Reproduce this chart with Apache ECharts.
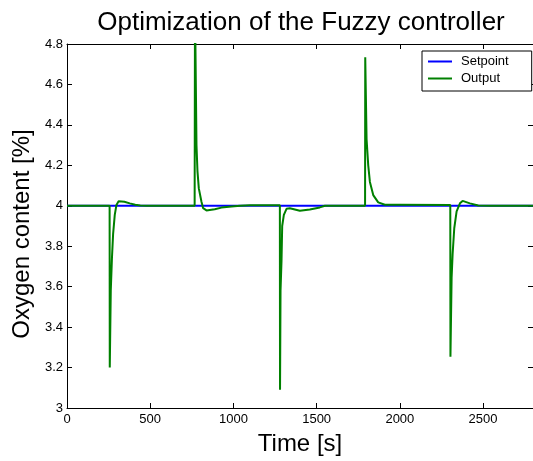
<!DOCTYPE html>
<html>
<head>
<meta charset="utf-8">
<script src="https://cdn.jsdelivr.net/npm/echarts@6/dist/echarts.min.js"></script>
<style>html,body{margin:0;padding:0;background:#fff;overflow:hidden;}#c{width:533px;height:461px;}</style>
</head>
<body>
<div id="c"></div>
<script>
const xTicks = [0, 500, 1000, 1500, 2000, 2500];
const yTicks = [3, 3.2, 3.4, 3.6, 3.8, 4, 4.2, 4.4, 4.6, 4.8];
const setpointTime = [0, 2800];
const setpointValue = [4, 4];
const outputTime = [0, 256, 257, 263, 270, 277, 287, 297, 310, 321, 345, 377, 410, 440, 480,
  767, 768, 769, 778, 784, 792, 808, 818, 838, 888, 928, 989, 1040, 1100, 1279,
  1280, 1283, 1289, 1293, 1303, 1319, 1339, 1399, 1459, 1519, 1550,
  1791, 1792, 1800, 1810, 1820, 1840, 1870, 1910, 2000, 2303,
  2304, 2311, 2317, 2327, 2341, 2361, 2377, 2421, 2471, 2542, 2800];
const outputValue = [4.0, 4.0, 3.2, 3.58, 3.74, 3.86, 3.955, 4.004, 4.022, 4.027, 4.02, 4.012, 4.005, 4.001, 4.0,
  4.0, 4.0, 5.0, 4.30, 4.17, 4.086, 4.02, 3.988, 3.977, 3.983, 3.991, 3.996, 4.0, 4.003, 4.003,
  3.09, 3.58, 3.73, 3.9, 3.955, 3.985, 3.988, 3.975, 3.982, 3.992, 4.0,
  4.0, 4.735, 4.33, 4.2, 4.118, 4.053, 4.017, 4.005, 4.005, 4.004,
  3.254, 3.645, 3.76, 3.89, 3.972, 4.012, 4.024, 4.012, 4.001, 4.0, 4.0];

const font = 'Liberation Sans, Arial, sans-serif';
const zip = (a, b) => a.map((v, i) => [v, b[i]]);

const chart = echarts.init(document.getElementById('c'), null, {renderer: 'canvas', width: 533, height: 461});
const tickStyle = {inside: true, length: 5, lineStyle: {color: '#000', width: 1}};
chart.setOption({
  animation: false,
  backgroundColor: '#fff',
  title: {
    text: 'Optimization of the Fuzzy controller',
    left: 296, top: 5, textAlign: 'center',
    textStyle: {fontFamily: font, fontSize: 26, fontWeight: 'normal', color: '#000'}
  },
  legend: {
    orient: 'vertical', left: 422, top: 51,
    icon: 'rect', itemWidth: 24, itemHeight: 2, itemGap: 4,
    padding: [4, 23, 6, 6],
    borderColor: '#000', borderWidth: 1, backgroundColor: '#fff',
    textStyle: {fontFamily: font, fontSize: 13, color: '#000', padding: [0, 0, 0, 4]},
    data: ['Setpoint', 'Output']
  },
  grid: {left: 67, top: 44, width: 466, height: 368, containLabel: false},
  xAxis: [{
    type: 'value', min: 0, max: 2800, interval: 500,
    name: 'Time [s]', nameLocation: 'middle', nameGap: 24,
    nameTextStyle: {fontFamily: font, fontSize: 24, color: '#000'},
    axisLine: {show: true, onZero: false, lineStyle: {color: '#000', width: 1}},
    axisTick: tickStyle,
    axisLabel: {fontFamily: font, fontSize: 13, color: '#000', margin: 5, showMaxLabel: false,
      formatter: v => xTicks.includes(v) ? String(v) : ''},
    splitLine: {show: false}
  }, {
    type: 'value', min: 0, max: 2800, interval: 500, position: 'top',
    axisLine: {show: true, onZero: false, lineStyle: {color: '#000', width: 1}},
    axisTick: tickStyle, axisLabel: {show: false}, splitLine: {show: false}
  }],
  yAxis: [{
    type: 'value', min: 3, max: 4.8, interval: 0.2,
    name: 'Oxygen content [%]', nameLocation: 'middle', nameGap: 31,
    nameTextStyle: {fontFamily: font, fontSize: 24, color: '#000', padding: [0, 16, 0, 0]},
    axisLine: {show: true, onZero: false, lineStyle: {color: '#000', width: 1}},
    axisTick: tickStyle,
    axisLabel: {fontFamily: font, fontSize: 13, color: '#000', margin: 4,
      formatter: v => { const r = Math.round(v * 10) / 10; return yTicks.includes(r) ? String(r) : ''; }},
    splitLine: {show: false}
  }, {
    type: 'value', min: 3, max: 4.8, interval: 0.2, position: 'right',
    axisLine: {show: true, onZero: false, lineStyle: {color: '#000', width: 1}},
    axisTick: tickStyle, axisLabel: {show: false}, splitLine: {show: false}
  }],
  series: [{
    name: 'Setpoint', type: 'line', symbol: 'none', clip: true,
    lineStyle: {color: '#0000ff', width: 2}, itemStyle: {color: '#0000ff'},
    data: zip(setpointTime, setpointValue)
  }, {
    name: 'Output', type: 'line', symbol: 'none', clip: true,
    lineStyle: {color: '#008000', width: 2}, itemStyle: {color: '#008000'},
    data: zip(outputTime, outputValue)
  }]
});
</script>
</body>
</html>
